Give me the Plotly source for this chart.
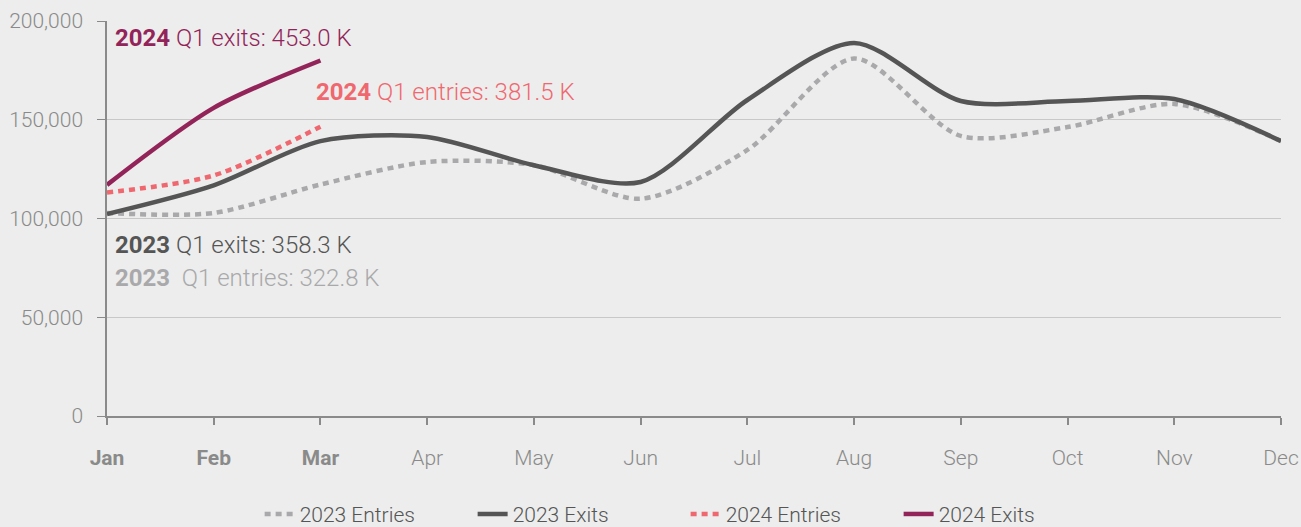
import plotly.graph_objects as go

months = ["Jan", "Feb", "Mar", "Apr", "May", "Jun", "Jul", "Aug", "Sep", "Oct", "Nov", "Dec"]
tick_labels = ["<b>Jan</b>", "<b>Feb</b>", "<b>Mar</b>", "Apr", "May", "Jun", "Jul", "Aug", "Sep", "Oct", "Nov", "Dec"]
entries_2023 = [102800, 102800, 117200, 128600, 127000, 110000, 134700, 181000, 141800, 146300, 158000, 139200]
exits_2023 = [102300, 116800, 139200, 141300, 127000, 118500, 160000, 188900, 159500, 159500, 160500, 139200]
entries_2024 = [113200, 121800, 146500]
exits_2024 = [117000, 156000, 180000]

FONT = "Roboto"
BG = "#ecedec"
DOT = "6px,5px"

fig = go.Figure()
fig.add_trace(go.Scatter(x=months, y=entries_2023, name="2023 Entries", mode="lines",
                         line=dict(color="#a9a9ab", width=4.5, dash=DOT, shape="spline", smoothing=0.8)))
fig.add_trace(go.Scatter(x=months, y=exits_2023, name="2023 Exits", mode="lines",
                         line=dict(color="#555555", width=4.5, shape="spline", smoothing=0.8)))
fig.add_trace(go.Scatter(x=months[:3], y=entries_2024, name="2024 Entries", mode="lines",
                         line=dict(color="#f0686f", width=4.5, dash=DOT, shape="spline", smoothing=0.8)))
fig.add_trace(go.Scatter(x=months[:3], y=exits_2024, name="2024 Exits", mode="lines",
                         line=dict(color="#93245a", width=4.5, shape="spline", smoothing=0.8)))

ann = [
    ("<b>2024</b> Q1 exits: 453.0 K", "#93245a", 0, 191400, 6),
    ("<b>2024</b> Q1 entries: 381.5 K", "#f0686f", 2, 164000, -6),
    ("<b>2023</b> Q1 exits: 358.3 K", "#555555", 0, 86600, 6),
    ("<b>2023</b>  Q1 entries: 322.8 K", "#a9a9ab", 0, 69900, 6),
]
for text, color, xi, yv, xs in ann:
    fig.add_annotation(x=xi, y=yv, text=text, showarrow=False, xanchor="left", yanchor="middle",
                       xshift=xs, font=dict(family=FONT, size=24, color=color, weight=300))

fig.update_layout(
    width=1301, height=527,
    paper_bgcolor=BG, plot_bgcolor=BG,
    margin=dict(l=107, r=20, t=21, b=111, autoexpand=False),
    font=dict(family=FONT, size=21, color="#8a8a8a", weight=300),
    showlegend=True,
    legend=dict(orientation="h", x=0.527, xanchor="center", xref="container",
                y=-0.197, yanchor="top", yref="paper",
                font=dict(family=FONT, size=21, color="#555555", weight=300),
                entrywidth=168, tracegroupgap=0),
    xaxis=dict(type="category", categoryorder="array", categoryarray=months,
               tickvals=months, ticktext=tick_labels, range=[0, 11], automargin=False,
               showgrid=False, showline=True, linecolor="#8a8a8a", linewidth=2,
               ticks="outside", ticklen=7, tickcolor="#8a8a8a", tickwidth=1.5,
               ticklabelstandoff=15,
               tickfont=dict(family=FONT, size=21, color="#8a8a8a", weight=300), zeroline=False),
    yaxis=dict(range=[0, 200000], tickvals=[0, 50000, 100000, 150000, 200000], automargin=False,
               tickformat=",", showgrid=True, gridcolor="#c8c8c8", gridwidth=1,
               showline=True, linecolor="#8a8a8a", linewidth=1.5,
               ticks="outside", ticklen=8, tickcolor="#8a8a8a",
               ticklabelstandoff=10,
               tickfont=dict(family=FONT, size=21, color="#8a8a8a", weight=300), zeroline=False),
)

fig.write_html("out.html", config={"displayModeBar": False},
               post_script="document.body.style.margin='0';")
